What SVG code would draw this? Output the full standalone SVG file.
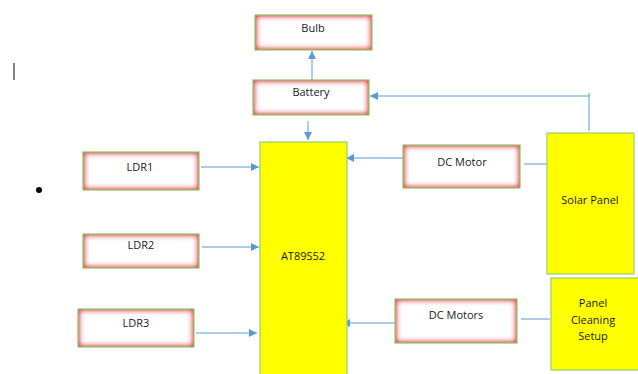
<svg xmlns="http://www.w3.org/2000/svg" width="638" height="374" viewBox="0 0 638 374">
<style>
.glow{fill:#fff;filter:url(#inner)}
.bd{fill:none;stroke:#8cc66a;stroke-width:1.2}
.yel{fill:#ffff00;stroke:#9bcc6a;stroke-width:1.2}
text{font-family:"Open Sans","Liberation Sans",sans-serif;font-size:11px;fill:#1a1a1a;text-anchor:middle}
.c{stroke:#5b9bd5;stroke-width:1;fill:none}
.a{stroke:#5b9bd5;stroke-width:1;fill:none;marker-end:url(#ah)}
</style>
<defs>
<filter id="inner" x="-10%" y="-20%" width="120%" height="140%">
<feFlood flood-color="#e62e2e"/>
<feComposite in2="SourceAlpha" operator="out"/>
<feGaussianBlur stdDeviation="3.2"/>
<feComposite in2="SourceAlpha" operator="in" result="sh"/>
<feMerge><feMergeNode in="SourceGraphic"/><feMergeNode in="sh"/><feMergeNode in="sh"/><feMergeNode in="sh"/></feMerge>
</filter>
<marker id="ah" viewBox="0 0 8 8" refX="8" refY="4" markerWidth="8" markerHeight="8" markerUnits="userSpaceOnUse" orient="auto">
<path d="M0,0 L8,4 L0,8 z" fill="#5b9bd5"/>
</marker>
</defs>
<rect width="638" height="374" fill="#fff"/>
<line x1="14" y1="63" x2="14" y2="80" stroke="#333" stroke-width="1.2"/>
<circle cx="39" cy="190" r="3" fill="#000"/>
<g id="connectors">
<path class="a" d="M312,80 V51"/>
<path class="a" d="M308,121 V140"/>
<path class="c" d="M589,131 V93"/>
<path class="a" d="M589,96 H370"/>
<path class="c" d="M547,164 H524"/>
<path class="a" d="M403,158 H346"/>
<path class="a" d="M201,167 H259"/>
<path class="a" d="M202,247 H259"/>
<path class="a" d="M196,333 H257"/>
<path class="c" d="M550,319 H521"/>
<path class="a" d="M395,323 H342"/>
</g>
<g id="bulb"><rect class="glow" x="255" y="15" width="117" height="35"/><rect class="bd" x="255" y="15" width="117" height="35"/><text x="313" y="32">Bulb</text></g>
<g id="battery"><rect class="glow" x="253" y="80" width="116" height="35"/><rect class="bd" x="253" y="80" width="116" height="35"/><text x="311" y="96">Battery</text></g>
<g id="mcu"><rect class="yel" x="260" y="142" width="87" height="240"/><text x="303" y="260">AT89S52</text></g>
<g id="ldr1"><rect class="glow" x="83" y="152" width="116" height="38"/><rect class="bd" x="83" y="152" width="116" height="38"/><text x="140" y="171">LDR1</text></g>
<g id="ldr2"><rect class="glow" x="83" y="234" width="116" height="34"/><rect class="bd" x="83" y="234" width="116" height="34"/><text x="141" y="249">LDR2</text></g>
<g id="ldr3"><rect class="glow" x="78" y="309" width="116" height="38"/><rect class="bd" x="78" y="309" width="116" height="38"/><text x="136" y="327">LDR3</text></g>
<g id="dcmotor"><rect class="glow" x="403" y="145" width="117" height="43"/><rect class="bd" x="403" y="145" width="117" height="43"/><text x="462" y="166">DC Motor</text></g>
<g id="solar"><rect class="yel" x="547" y="133" width="87" height="141"/><text x="590" y="204">Solar Panel</text></g>
<g id="dcmotors"><rect class="glow" x="395" y="299" width="122" height="44"/><rect class="bd" x="395" y="299" width="122" height="44"/><text x="456" y="319">DC Motors</text></g>
<g id="cleaning"><rect class="yel" x="551" y="278" width="90" height="92"/><text x="593" y="307">Panel</text><text x="593" y="324">Cleaning</text><text x="593" y="340">Setup</text></g>
</svg>
